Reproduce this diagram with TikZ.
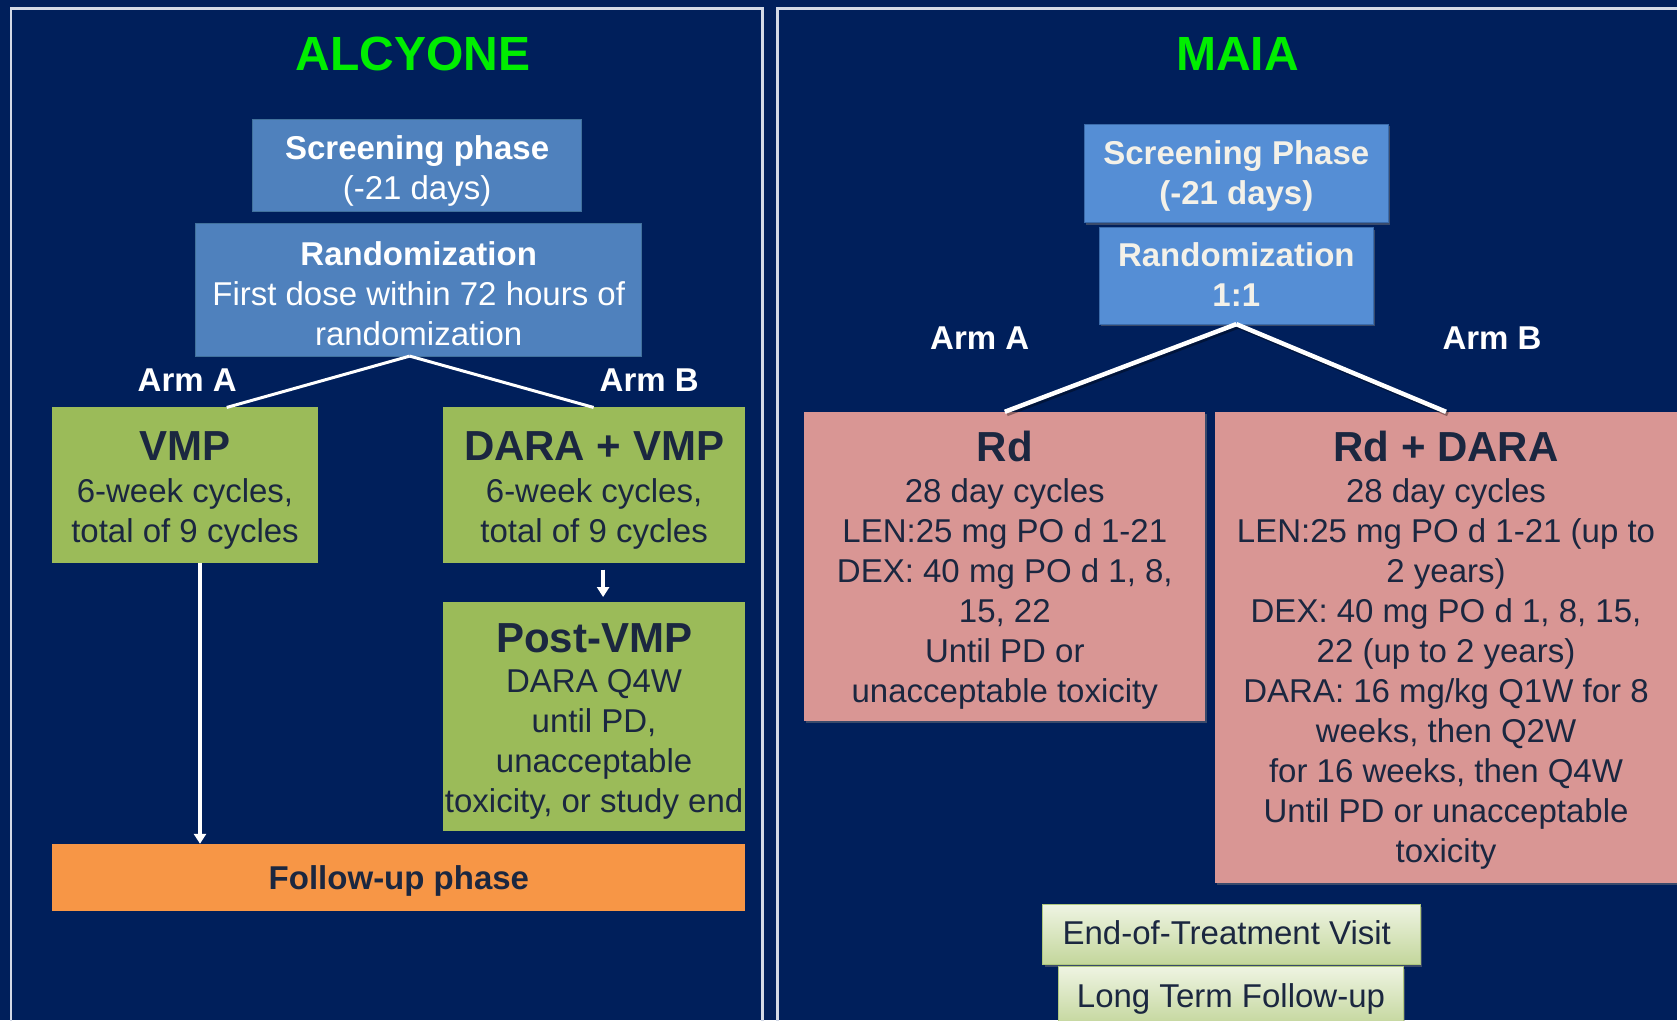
\documentclass[tikz,border=0pt]{standalone}
\usepackage{fontspec}
\setmainfont{Liberation Sans}
\usetikzlibrary{arrows.meta,shadows}
\definecolor{navy}{HTML}{001F5B}
\definecolor{panelline}{HTML}{D3D9E6}
\definecolor{lblue}{HTML}{4F81BD}
\definecolor{lblueb}{HTML}{41719C}
\definecolor{rblue}{HTML}{558ED5}
\definecolor{rblueb}{HTML}{3B6BAA}
\definecolor{cream}{HTML}{F4F1E8}
\definecolor{grn}{HTML}{9BBB59}
\definecolor{orng}{HTML}{F79646}
\definecolor{pink}{HTML}{D99694}
\definecolor{darktxt}{HTML}{1B2740}
\definecolor{titlegrn}{HTML}{00EE00}
\definecolor{eottop}{HTML}{EEF4E2}
\definecolor{eotbot}{HTML}{C3D69B}
\definecolor{eotb}{HTML}{AFC77E}
\newcommand\bodyfnt{\fontsize{33}{40}\selectfont}
\newcommand\titlefnt{\fontsize{42}{48}\selectfont\bfseries}
\newcommand\headfnt{\fontsize{48}{56}\selectfont\bfseries}
\begin{document}
\begin{tikzpicture}[x=1pt,y=-1pt,
  box/.style={rectangle, inner sep=0pt, outer sep=0pt},
  lbluebox/.style={box, fill=lblue, draw=lblueb, line width=0.8pt},
  rbluebox/.style={box, fill=rblue, draw=rblueb, line width=0.8pt,
     drop shadow={shadow xshift=2pt, shadow yshift=-2pt, opacity=0.45}},
  grnbox/.style={box, fill=grn},
  orngbox/.style={box, fill=orng},
  pinkbox/.style={box, fill=pink,
     drop shadow={shadow xshift=2pt, shadow yshift=-2pt, opacity=0.45}},
  eotbox/.style={box, top color=eottop, bottom color=eotbot, draw=eotb, line width=0.8pt,
     drop shadow={shadow xshift=2pt, shadow yshift=-2pt, opacity=0.45}},
  txt/.style={inner sep=0pt, outer sep=0pt, align=center, font=\bodyfnt},
  wtxt/.style={txt, text=white},
  ctxt/.style={txt, text=cream},
  dtxt/.style={txt, text=darktxt},
  armlbl/.style={txt, text=white, font=\bodyfnt\bfseries},
  head/.style={inner sep=0pt, text=titlegrn, font=\headfnt},
  wline/.style={draw=white, line width=3pt},
  mline/.style={draw=white, line width=4.5pt},
  mshadow/.style={draw=black, opacity=0.35, line width=5pt},
  arr/.style={draw=white, line width=3.5pt, -{Triangle[width=12pt,length=10pt]}},
]
\useasboundingbox (0,0) rectangle (1677,1020);
\fill[navy] (0,0) rectangle (1677,1020);
\begin{scope}
\clip (0,0) rectangle (1677,1020);
\draw[panelline, line width=2.5pt] (11,1060) -- (11,8.5) -- (762.5,8.5) -- (762.5,1060);
\draw[panelline, line width=2.5pt] (1720,8.5) -- (777.5,8.5) -- (777.5,1060);

% ---------------- ALCYONE ----------------
\node[head] (alc) at (413,53.5) {ALCYONE};

\node[lbluebox, minimum width=329.4pt, minimum height=92pt] (scr) at (417.1,165.8) {};
\node[wtxt] (scrT) at (417.1,171) {\textbf{Screening phase}\\(-21 days)};

\node[lbluebox, minimum width=446pt, minimum height=132.6pt] (rand) at (418.7,289.8) {};
\node[wtxt] (randT) at (418.7,294) {\textbf{Randomization}\\First dose within 72 hours of\\randomization};

\node[armlbl] (armA) at (187.2,379.7) {Arm A};
\node[armlbl] (armB) at (649.2,379.7) {Arm B};

\node[grnbox, minimum width=265.2pt, minimum height=155.1pt] (vmp) at (185,485) {};
\node[grnbox, minimum width=302.6pt, minimum height=155.1pt] (dvmp) at (594.1,485) {};
\node[grnbox, minimum width=302.6pt, minimum height=228.9pt] (post) at (594.1,716.5) {};
\node[orngbox, minimum width=693pt, minimum height=67.4pt] (fu) at (398.9,877.5) {};

\draw[wline] ([xshift=-9pt]rand.south) -- ([xshift=41.7pt]vmp.north);
\draw[wline] ([xshift=-9pt]rand.south) -- ([xshift=-0.5pt]dvmp.north);

\node[dtxt] (vmpT) at (185,490) {{\titlefnt VMP}\\[2pt]6-week cycles,\\total of 9 cycles};
\node[dtxt] (dvmpT) at (594.1,490) {{\titlefnt DARA + VMP}\\[2pt]6-week cycles,\\total of 9 cycles};
\node[dtxt] (postT) at (594.1,721.8) {{\titlefnt Post-VMP}\\DARA Q4W\\until PD,\\unacceptable\\toxicity, or study end};
\node[dtxt, font=\bodyfnt\bfseries] (fuT) at (398.9,881) {Follow-up phase};

\draw[arr] ([xshift=15pt]vmp.south) -- ([xshift=15pt]vmp.south |- fu.north);
\draw[arr] ([xshift=9pt,yshift=-7pt]dvmp.south) -- ([xshift=9pt,yshift=5pt]post.north);

% ---------------- MAIA ----------------
\node[head] (maia) at (1237.4,53.5) {MAIA};

\node[rbluebox, minimum width=303.7pt, minimum height=98.4pt] (scr2) at (1236.3,173.3) {};
\node[rbluebox, minimum width=273.8pt, minimum height=96.3pt] (rand2) at (1236.3,276) {};
\node[ctxt, font=\bodyfnt\bfseries] (scr2T) at (1236.3,175.8) {Screening Phase\\(-21 days)};
\node[ctxt, font=\bodyfnt\bfseries] (rand2T) at (1236.3,275) {Randomization\\1:1};

\node[armlbl] (armA2) at (979.7,338) {Arm A};
\node[armlbl] (armB2) at (1492,338) {Arm B};

\node[pinkbox, minimum width=401pt, minimum height=309pt] (rd) at (1004.8,566.3) {};
\node[pinkbox, minimum width=485pt, minimum height=471.6pt] (rdd) at (1457.5,647.6) {};

\draw[mshadow] ([shift={(2pt,-2pt)}]rand2.south) -- ([shift={(2pt,-2pt)}]rd.north);
\draw[mshadow] ([shift={(2pt,-2pt)}]rand2.south) -- ([shift={(-9.5pt,-2pt)}]rdd.north);
\draw[mline] (rand2.south) -- (rd.north);
\draw[mline] (rand2.south) -- ([xshift=-11.5pt]rdd.north);

\node[dtxt] (rdT) at (1004.8,569.9) {{\titlefnt Rd}\\[1pt]28 day cycles\\LEN:25 mg PO d 1-21\\DEX: 40 mg PO d 1, 8,\\15, 22\\Until PD or\\unacceptable toxicity};
\node[dtxt] (rddT) at (1446,650) {{\titlefnt Rd + DARA}\\[1pt]28 day cycles\\LEN:25 mg PO d 1-21 (up to\\2 years)\\DEX: 40 mg PO d 1, 8, 15,\\22 (up to 2 years)\\DARA: 16 mg/kg Q1W for 8\\weeks, then Q2W\\for 16 weeks, then Q4W\\Until PD or unacceptable\\toxicity};

\node[eotbox, minimum width=377.5pt, minimum height=59.9pt] (eot) at (1231.5,934.7) {};
\node[eotbox, minimum width=344.4pt, minimum height=60pt] (ltf) at (1231,996.8) {};
\node[dtxt] (eotT) at (1226.7,933) {End-of-Treatment Visit};
\node[dtxt] (ltfT) at (1231,998.5) {Long Term Follow-up};
\end{scope}
\end{tikzpicture}
\end{document}
